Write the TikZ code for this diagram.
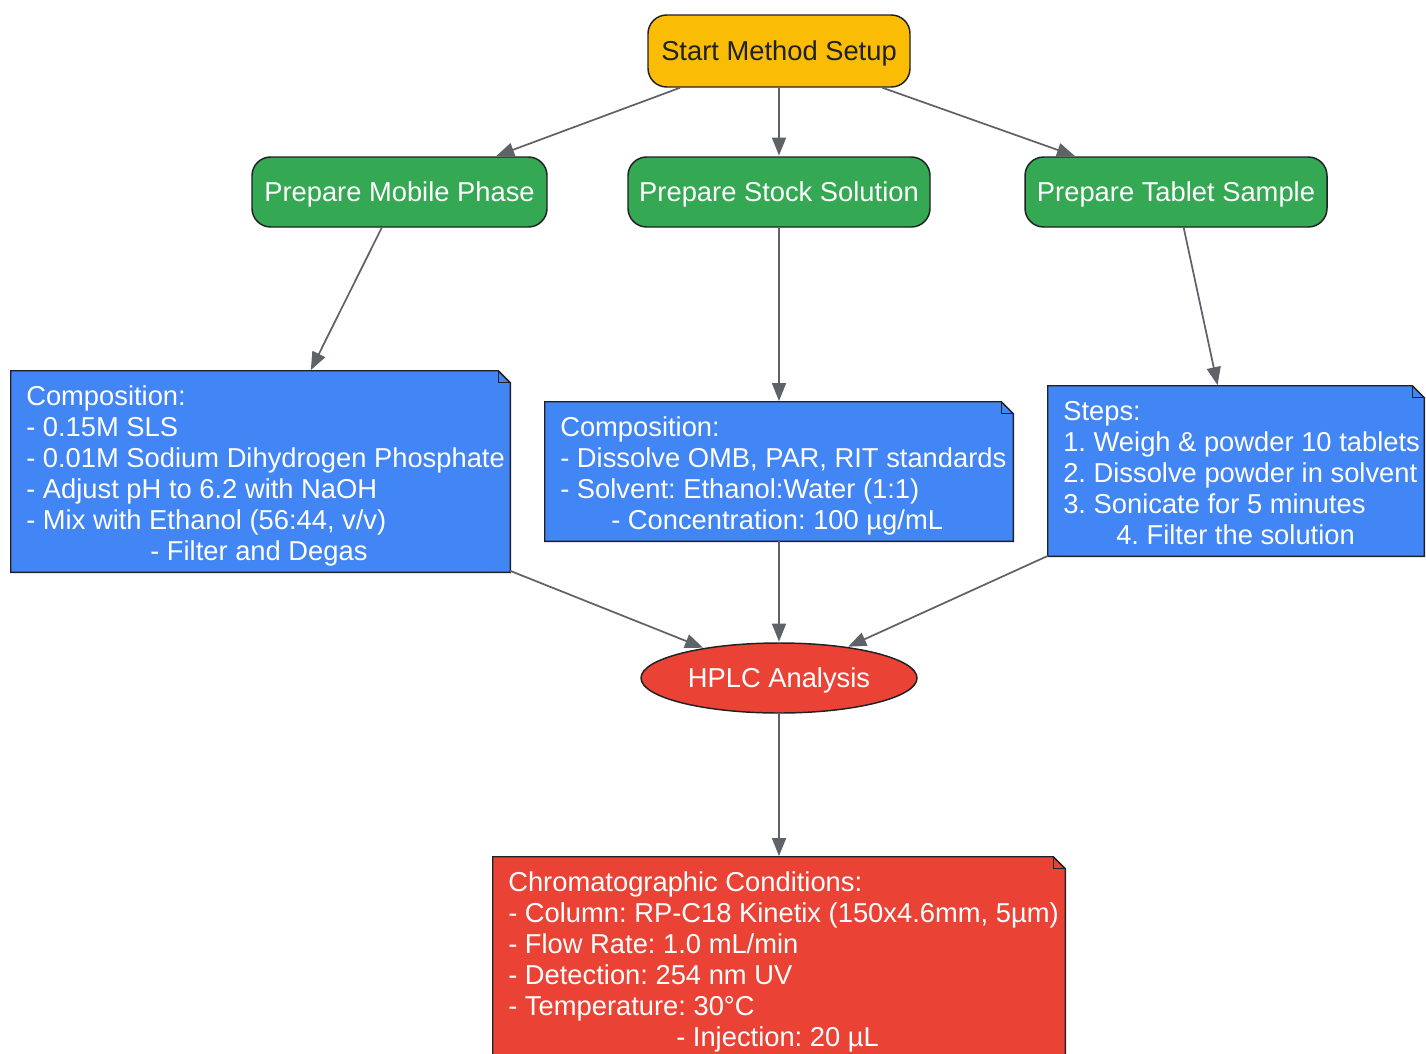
\documentclass[tikz,border=0pt]{standalone}
\usepackage{fontspec}
\setmainfont{Liberation Sans}
\usetikzlibrary{arrows.meta,shapes.geometric}
\frenchspacing
\definecolor{cyellow}{HTML}{FBBC05}
\definecolor{cgreen}{HTML}{34A853}
\definecolor{cblue}{HTML}{4285F4}
\definecolor{cred}{HTML}{EA4335}
\definecolor{cedge}{HTML}{5F6368}
\definecolor{cborder}{HTML}{202124}
\newcommand\drawnote[2]{%
  \filldraw[fill=#2, draw=cborder, line width=1.1pt, line join=miter]
    (#1.south west) -- (#1.south east) -- ([yshift=-9pt]#1.north east)
    -- ([xshift=-9pt]#1.north east) -- (#1.north west) -- cycle;
  \draw[cborder, line width=1.1pt] ([xshift=-9pt]#1.north east) |- ([yshift=-9pt]#1.north east);}
\begin{document}
\begin{tikzpicture}[x=0.75pt,y=-0.75pt,
  every node/.style={font=\fontsize{20.5}{23.25}\selectfont},
  startbox/.style={draw=cborder, line width=1.1pt, rounded corners=14pt, fill=cyellow, text=cborder, minimum height=54pt, inner sep=0, text depth=0pt},
  procbox/.style={draw=cborder, line width=1.1pt, rounded corners=14pt, fill=cgreen, text=white, minimum height=52.5pt, inner sep=0, text depth=0pt},
  notearea/.style={rectangle, draw=none, inner sep=0},
  notetext/.style={anchor=base west, align=left, inner sep=0, text=white},
  hplc/.style={ellipse, draw=cborder, line width=1.1pt, fill=cred, text=white, minimum width=207pt, minimum height=52.5pt, inner sep=0, text depth=0pt},
  edge/.style={draw=cedge, line width=1.3pt, -{Triangle[length=13.5pt,width=10.5pt]}, shorten >=0.5pt}
]
\useasboundingbox (0,0) rectangle (1426,1053);
\begin{scope}
\clip (0,0) rectangle (1426,1053);
\node[startbox, minimum width=196.5pt] (start) at (779,51) {Start Method Setup};
\node[procbox, minimum width=221.25pt] (mob) at (399.5,192) {Prepare Mobile Phase};
\node[procbox, minimum width=226.5pt] (stock) at (779,192) {Prepare Stock Solution};
\node[procbox, minimum width=226.5pt] (tab) at (1176,192) {Prepare Tablet Sample};

\node[notearea, minimum width=374.25pt, minimum height=150.75pt] (n1) at (260.5,471.5) {};
\drawnote{n1}{cblue}
\node[notetext] (n1t) at (26,560) {Composition:\\- 0.15M SLS\\- 0.01M Sodium Dihydrogen Phosphate\\- Adjust pH to 6.2 with NaOH\\- Mix with Ethanol (56:44, v/v)\\\hspace*{93pt}- Filter and Degas};

\node[notearea, minimum width=351pt, minimum height=104.25pt] (n2) at (779,471.5) {};
\drawnote{n2}{cblue}
\node[notetext] (n2t) at (560,529) {Composition:\\- Dissolve OMB, PAR, RIT standards\\- Solvent: Ethanol:Water (1:1)\\\hspace*{38.25pt}- Concentration: 100 µg/mL};

\node[notearea, minimum width=282pt, minimum height=127.5pt] (n3) at (1236,471) {};
\drawnote{n3}{cblue}
\node[notetext] (n3t) at (1063,544) {Steps:\\1. Weigh \& powder 10 tablets\\2. Dissolve powder in solvent\\3. Sonicate for 5 minutes\\\hspace*{39.75pt}4. Filter the solution};

\node[hplc] (hplc) at (779,678) {HPLC Analysis};

\node[notearea, minimum width=429pt, minimum height=157.5pt] (n4) at (779,962) {};
\drawnote{n4}{cred}
\node[notetext] (n4t) at (508,1046) {Chromatographic Conditions:\\- Column: RP-C18 Kinetix (150x4.6mm, 5µm)\\- Flow Rate: 1.0 mL/min\\- Detection: 254 nm UV\\- Temperature: 30°C\\\hspace*{126pt}- Injection: 20 µL};

\draw[edge] (start) -- (mob);
\draw[edge] (start) -- (stock);
\draw[edge] (start) -- (tab);
\draw[edge] (mob) -- (n1);
\draw[edge] (stock) -- (n2);
\draw[edge] (tab) -- (n3);
\draw[edge] (n1) -- (hplc);
\draw[edge] (n2) -- (hplc);
\draw[edge] (n3) -- (hplc);
\draw[edge] (hplc) -- (n4);
\end{scope}
\end{tikzpicture}
\end{document}
